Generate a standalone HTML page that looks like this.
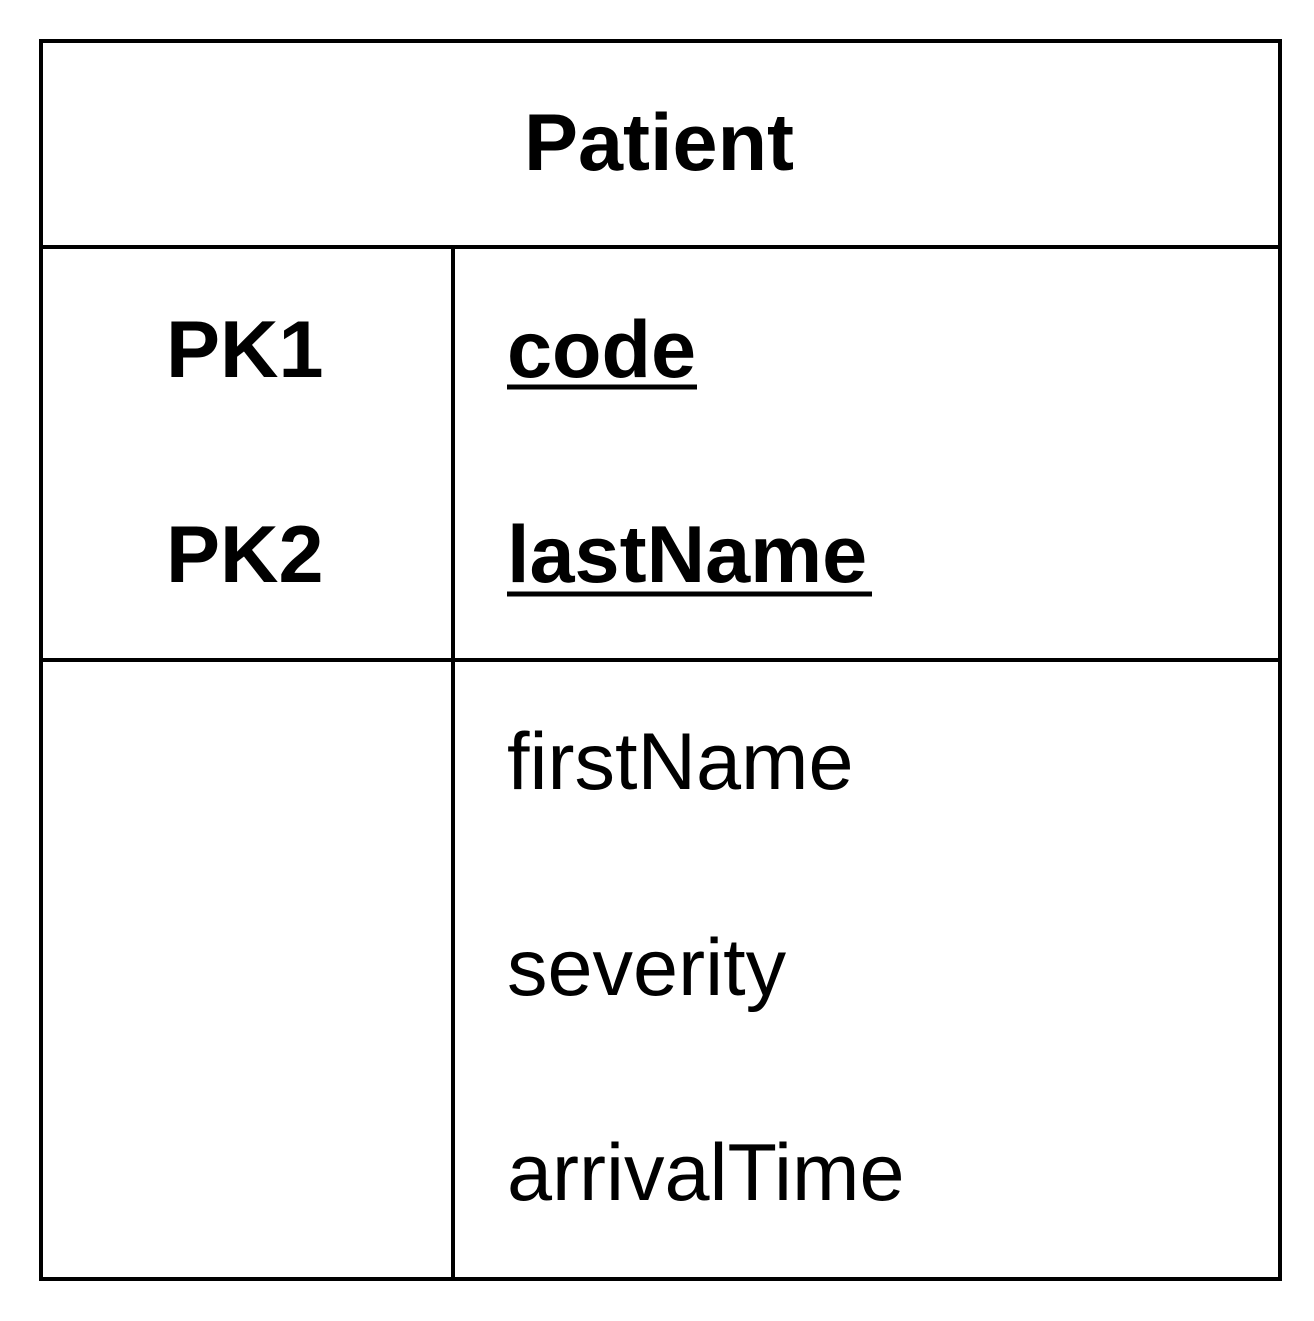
<!DOCTYPE html>
<html><head><meta charset="utf-8"><style>
html,body{margin:0;padding:0;background:#fff;}
svg{display:block;}
text{font-family:"Liberation Sans",Arial,sans-serif;fill:#000;}
</style></head><body>
<svg width="1314" height="1321" viewBox="0 0 1314 1321" xmlns="http://www.w3.org/2000/svg">
<rect x="0" y="0" width="1314" height="1321" fill="#fff"/>
<rect x="41" y="41" width="1239" height="1238" fill="none" stroke="#000" stroke-width="4"/>
<line x1="41" y1="247" x2="1280" y2="247" stroke="#000" stroke-width="4"/>
<line x1="41" y1="660" x2="1280" y2="660" stroke="#000" stroke-width="4"/>
<line x1="453" y1="247" x2="453" y2="1279" stroke="#000" stroke-width="4"/>
<text x="659" y="170" font-size="81" font-weight="bold" text-anchor="middle">Patient</text>
<text x="166" y="377" font-size="81" font-weight="bold">PK1</text>
<text x="166" y="582" font-size="81" font-weight="bold">PK2</text>
<text x="507" y="377" font-size="81" font-weight="bold">code</text>
<line x1="507" y1="387" x2="697" y2="387" stroke="#000" stroke-width="5"/>
<text x="507" y="582" font-size="81" font-weight="bold">lastName</text>
<line x1="507" y1="594" x2="872" y2="594" stroke="#000" stroke-width="5"/>
<text x="507" y="789" font-size="81">firstName</text>
<text x="507" y="995" font-size="81">severity</text>
<text x="507" y="1200" font-size="81">arrivalTime</text>
</svg>
</body></html>
